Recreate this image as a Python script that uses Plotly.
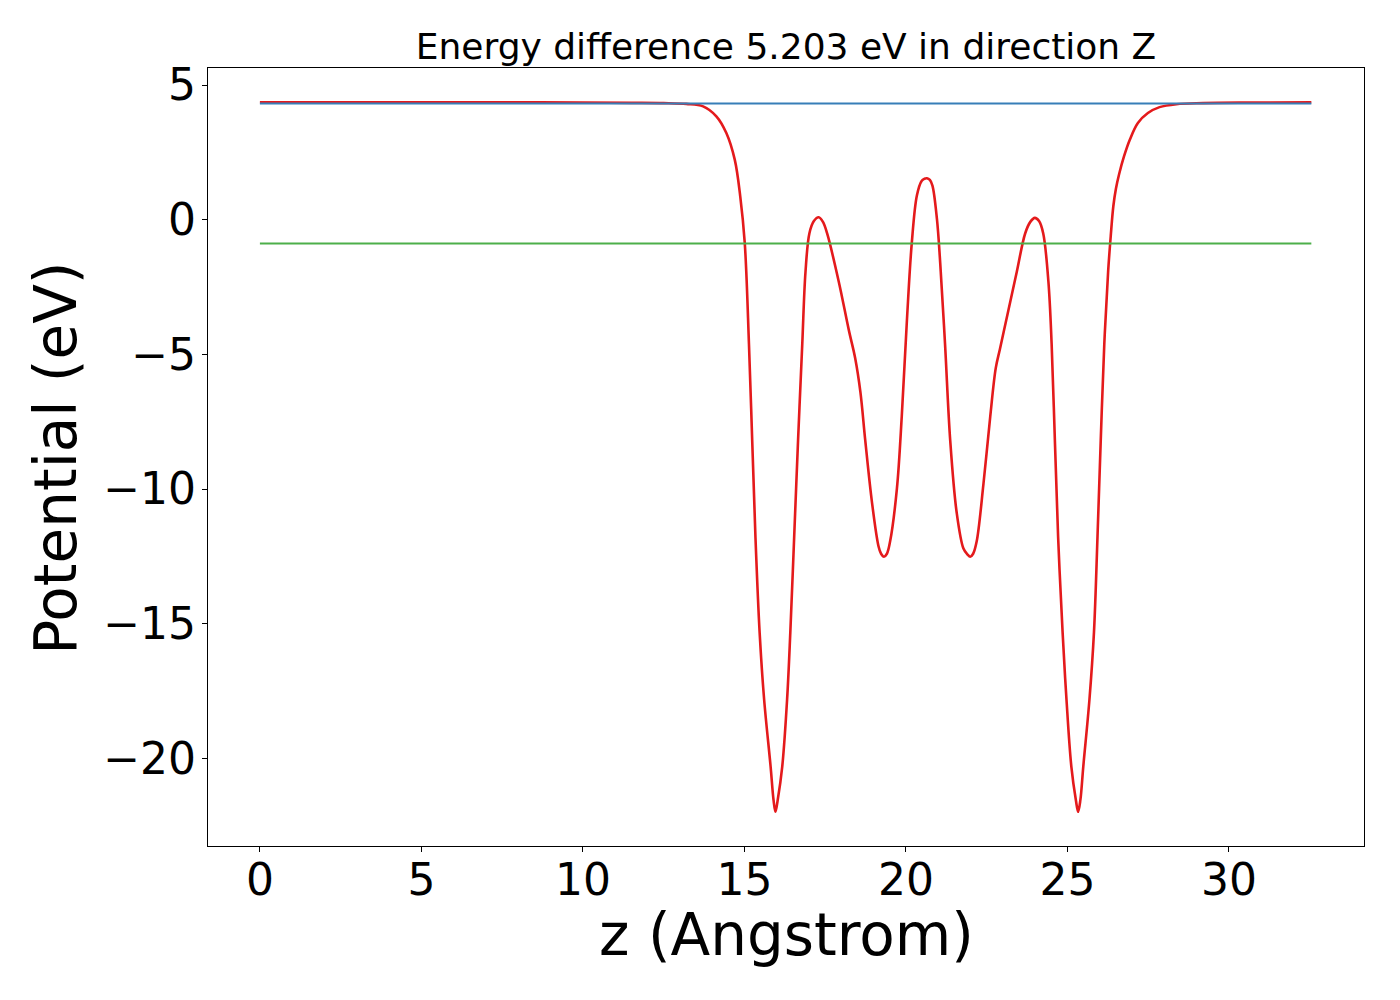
import plotly.graph_objects as go

# red curve: planar averaged potential
z_vals = [0.0, 2.0, 4.0, 6.0, 8.0, 10.0, 11.5, 12.5, 13.2, 13.72, 14.13, 14.44,
          14.70, 14.87, 15.01, 15.14, 15.24, 15.34, 15.47, 15.61, 15.81, 15.90, 15.96,
          16.03, 16.17, 16.32, 16.42, 16.54, 16.66, 16.79, 16.89, 17.01, 17.15, 17.30,
          17.43, 17.56, 17.92, 18.23, 18.43, 18.59, 18.74, 18.95, 19.15, 19.23, 19.32,
          19.41, 19.51, 19.72, 19.87, 20.03, 20.18, 20.34, 20.49, 20.57, 20.65, 20.74,
          20.82, 20.96, 21.06, 21.21, 21.37, 21.57, 21.78, 21.90, 21.99, 22.08, 22.19,
          22.40, 22.61, 22.78, 22.91, 23.17, 23.43, 23.69, 23.85, 23.99, 24.12, 24.25,
          24.41, 24.51, 24.61, 24.71, 24.85, 24.97, 25.12, 25.26, 25.33, 25.40, 25.49,
          25.68, 25.82, 25.93, 26.03, 26.14, 26.26, 26.34, 26.42, 26.50, 26.60, 26.75,
          26.93, 27.18, 27.49, 27.85, 28.37, 29.2, 30.5, 32.55]
potential = [4.36, 4.36, 4.36, 4.36, 4.36, 4.35, 4.34, 4.33, 4.30, 4.21, 3.84, 3.22,
             2.23, 0.87, -0.87, -4.62, -8.19, -11.76, -15.33, -17.82, -20.30, -21.54, -21.98,
             -21.54, -20.30, -17.82, -15.33, -11.76, -8.19, -4.62, -1.94, -0.51, -0.05, 0.09,
             -0.08, -0.51, -2.30, -4.09, -5.15, -6.40, -8.19, -10.51, -12.12, -12.40, -12.51,
             -12.40, -11.94, -9.98, -7.30, -3.73, -0.87, 0.91, 1.45, 1.52, 1.54, 1.48,
             1.27, 0.02, -1.59, -4.62, -8.19, -10.87, -12.21, -12.42, -12.51, -12.40, -11.94,
             -9.80, -7.30, -5.51, -4.80, -3.37, -1.94, -0.51, -0.08, 0.07, -0.05, -0.51,
             -2.30, -4.62, -8.19, -11.76, -15.33, -17.82, -20.30, -21.54, -21.98, -21.54, -20.30,
             -17.82, -15.33, -11.76, -8.19, -4.62, -1.90, -0.60, 0.50, 1.15, 1.70, 2.35,
             2.97, 3.59, 3.96, 4.18, 4.29, 4.33, 4.35, 4.36]

# horizontal reference levels (vacuum level and Fermi level)
level_z = [0.0, 32.55]
vacuum_level = [4.318, 4.318]
fermi_level = [-0.885, -0.885]

x_ticks = [0, 5, 10, 15, 20, 25, 30]
y_ticks = [5, 0, -5, -10, -15, -20]
y_tick_text = ["5", "0", "\u22125", "\u221210", "\u221215", "\u221220"]

fig = go.Figure()
fig.add_trace(go.Scatter(x=z_vals, y=potential, mode="lines",
                         line=dict(color="#e41a1c", width=2.6, shape="spline", smoothing=1.0)))
fig.add_trace(go.Scatter(x=level_z, y=vacuum_level, mode="lines",
                         line=dict(color="#377eb8", width=2)))
fig.add_trace(go.Scatter(x=level_z, y=fermi_level, mode="lines",
                         line=dict(color="#4daf4a", width=2)))

axis_style = dict(showgrid=False, zeroline=False, showline=True, mirror=True,
                  linecolor="black", linewidth=1.2, ticks="outside", ticklen=5,
                  tickwidth=1.2, tickcolor="black",
                  tickfont=dict(family="DejaVu Sans", size=44, color="black"))

fig.update_xaxes(range=[-1.607, 34.18], tickvals=x_ticks, ticklabelstandoff=-10,
                 **axis_style)
fig.update_yaxes(range=[-23.25, 5.633], tickvals=y_ticks, ticktext=y_tick_text,
                 ticklabelstandoff=-3, **axis_style)

label_font = dict(family="DejaVu Sans", size=58, color="black")
fig.add_annotation(text="z (Angstrom)", xref="paper", yref="paper",
                   x=0.5, y=-0.115, xanchor="center", yanchor="middle",
                   showarrow=False, font=label_font)
fig.add_annotation(text="Potential (eV)", xref="paper", yref="paper",
                   x=-0.131, y=0.4986, xanchor="center", yanchor="middle",
                   textangle=-90, showarrow=False, font=label_font)

fig.update_layout(
    width=1392, height=992,
    margin=dict(l=200, r=36, t=60, b=154, autoexpand=False),
    plot_bgcolor="white", paper_bgcolor="white",
    showlegend=False,
    title=dict(text="Energy difference 5.203 eV in direction Z",
               x=0.5, xanchor="center", xref="paper",
               y=0.9617, yanchor="middle", yref="container",
               font=dict(family="DejaVu Sans", size=36, color="black")),
)

fig.write_html("out.html")
